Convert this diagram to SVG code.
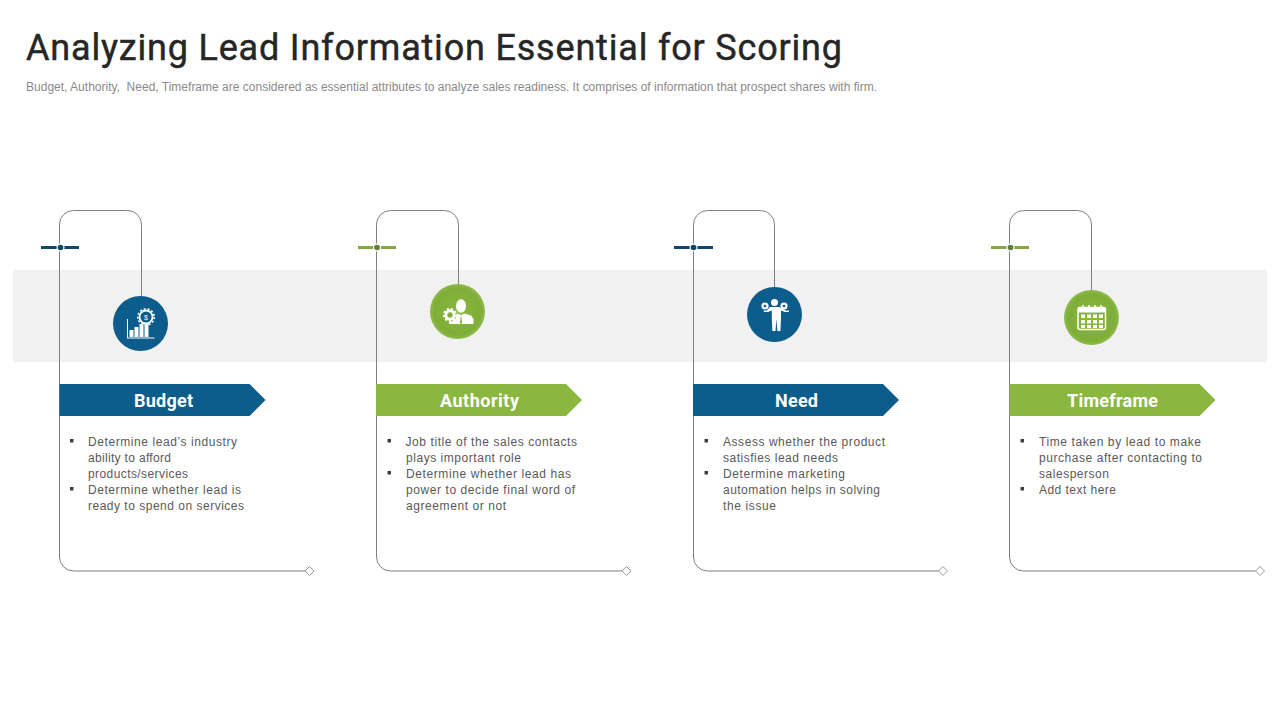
<svg xmlns="http://www.w3.org/2000/svg" width="1280" height="720" viewBox="0 0 1280 720">
<style>
.title{font-family:"Roboto","Liberation Sans",sans-serif;font-size:36px;font-weight:400;fill:#262626;stroke:#262626;stroke-width:.45}
.sub{font-family:"Liberation Sans",Arial,sans-serif;font-size:12px;fill:#8a8a8a}
.body{font-family:"Liberation Sans",Arial,sans-serif;font-size:12px;fill:#595959}
.head{font-family:"Roboto","Liberation Sans",sans-serif;font-size:18px;font-weight:700;fill:#fff;text-anchor:middle}
.conn{fill:none;stroke:#7f7f7f;stroke-width:1}
.dia{fill:#fff;stroke:#7f7f7f;stroke-width:.8}
.blue{fill:#0c5c8c}.green{fill:#8ab73f}
.bul{fill:#404040}
.ico{fill:#fff}
.icl{fill:none;stroke:#fff}
</style>
<defs>
<radialGradient id="gg" cx="50%" cy="50%" r="50%"><stop offset="0" stop-color="#8ab83f"/><stop offset=".85" stop-color="#7fae38"/><stop offset="1" stop-color="#8fbb4c"/></radialGradient>
<path id="arrow" d="M0 0H190L206 16L190 32H0Z"/>
<path id="bullet" d="M0 0h3.500v3.500h-3.500z"/>
</defs>
<rect x="13" y="270" width="1254" height="92" fill="#f1f1f1"/>
<text class="title" x="26" y="60" textLength="816" lengthAdjust="spacing">Analyzing Lead Information Essential for Scoring</text>
<text class="sub" x="26" y="91" textLength="851" lengthAdjust="spacing" xml:space="preserve">Budget, Authority,  Need, Timeframe are considered as essential attributes to analyze sales readiness. It comprises of information that prospect shares with firm.</text>

<g id="connectors">
<path class="conn" d="M141.500 296V224.500a14 14 0 0 0-14-14H73.500a14 14 0 0 0-14 14V557a14 14 0 0 0 14 14H305"/>
<path class="conn" d="M458.500 284V224.500a14 14 0 0 0-14-14H390.500a14 14 0 0 0-14 14V557a14 14 0 0 0 14 14H622"/>
<path class="conn" d="M774.500 287V224.500a14 14 0 0 0-14-14H707.500a14 14 0 0 0-14 14V557a14 14 0 0 0 14 14H938.500"/>
<path class="conn" d="M1091.500 290V224.500a14 14 0 0 0-14-14H1023.500a14 14 0 0 0-14 14V557a14 14 0 0 0 14 14H1255.500"/>
<path class="dia" d="M309.500 566.500l4.500 4.500-4.500 4.500-4.500-4.500z"/>
<path class="dia" d="M626.500 566.500l4.500 4.500-4.500 4.500-4.500-4.500z"/>
<path class="dia" d="M943 566.500l4.500 4.500-4.500 4.500-4.500-4.500z"/>
<path class="dia" d="M1260 566.500l4.500 4.500-4.500 4.500-4.500-4.500z"/>
</g>

<g id="node-budget">
<path d="M41 247.500H79" stroke="#12476b" stroke-width="3"/>
<circle cx="60.500" cy="247.500" r="4" fill="#fff"/><circle cx="60.500" cy="247.500" r="2.800" fill="#12476b"/>
<circle cx="140.500" cy="323.500" r="27.500" class="blue"/>
<g class="ico">
<path d="M127 319h1v19h-1z"/><path d="M127 337.500h27.500v1h-27.500z"/>
<rect x="129.500" y="330" width="4" height="7"/><rect x="134.500" y="327" width="4" height="10"/><rect x="139.500" y="324" width="4" height="13"/><rect x="144.500" y="321" width="4" height="16"/>
</g>
<circle cx="146" cy="317" r="6.500" fill="#0c5c8c" stroke="#fff" stroke-width="1.800"/>
<circle cx="146" cy="317" r="8.200" fill="none" stroke="#fff" stroke-width="1.600" stroke-dasharray="2 2"/>
<text x="146" y="319.500" font-family="Liberation Sans,sans-serif" font-size="7" fill="#fff" text-anchor="middle">$</text>
<use href="#arrow" x="59.500" y="384" class="blue"/>
<text class="head" x="163.500" y="407" textLength="59" lengthAdjust="spacing">Budget</text>
<use href="#bullet" x="70" y="439" class="bul"/><use href="#bullet" x="70" y="487" class="bul"/>
<text class="body" x="88" y="445.500" textLength="149" lengthAdjust="spacing">Determine  lead’s industry</text>
<text class="body" x="88" y="461.500" textLength="83" lengthAdjust="spacing">ability to afford</text>
<text class="body" x="88" y="477.500" textLength="100" lengthAdjust="spacing">products/services</text>
<text class="body" x="88" y="493.500" textLength="153" lengthAdjust="spacing">Determine  whether  lead is</text>
<text class="body" x="88" y="509.500" textLength="156" lengthAdjust="spacing">ready to spend on services</text>
</g>

<g id="node-authority">
<path d="M358 247.500H396" stroke="#86a548" stroke-width="3"/>
<circle cx="377" cy="247.500" r="4" fill="#fff"/><circle cx="377" cy="247.500" r="2.800" fill="#5f7f35"/>
<circle cx="457.500" cy="311.500" r="27.500" fill="url(#gg)"/>
<g class="ico">
<ellipse cx="461" cy="306" rx="5" ry="6.800"/>
<path d="M449 324v-5l2-3.500 6.500-2 3.500 1.500 3.500-1.500 6.500 2 2.500 3.500v5z"/>
</g>
<path d="M461 315l-1.200 8.500h2.400z" fill="#7fae38"/>
<circle cx="450" cy="315" r="6.500" fill="#7fae38"/>
<circle cx="450" cy="315" r="4.200" fill="none" stroke="#fff" stroke-width="3"/>
<circle cx="450" cy="315" r="6.200" fill="none" stroke="#fff" stroke-width="1.800" stroke-dasharray="2.200 2"/>
<use href="#arrow" x="376.500" y="384" class="green" transform="translate(-.5 0)"/>
<text class="head" x="479.500" y="407" textLength="79" lengthAdjust="spacing">Authority</text>
<use href="#bullet" x="387.500" y="439" class="bul"/><use href="#bullet" x="387.500" y="471" class="bul"/>
<text class="body" x="405.500" y="445.500" textLength="171.500" lengthAdjust="spacing">Job title of the sales contacts</text>
<text class="body" x="406" y="461.500" textLength="115" lengthAdjust="spacing">plays important role</text>
<text class="body" x="406" y="477.500" textLength="165" lengthAdjust="spacing">Determine  whether lead has</text>
<text class="body" x="406" y="493.500" textLength="169" lengthAdjust="spacing">power  to decide final word  of</text>
<text class="body" x="406" y="509.500" textLength="100" lengthAdjust="spacing">agreement  or not</text>
</g>

<g id="node-need">
<path d="M674 247.500H713" stroke="#12476b" stroke-width="3"/>
<circle cx="693.500" cy="247.500" r="4" fill="#fff"/><circle cx="693.500" cy="247.500" r="2.800" fill="#12476b"/>
<circle cx="774.500" cy="314.500" r="27.500" class="blue"/>
<g class="ico">
<circle cx="774.500" cy="302.500" r="3.500"/>
<path d="M770 307h9l7 3.500h3v1.600h-4l-4-1.600v8.500l-.6 12h-3.100l-.8-11h-.2l-.8 11h-3.100l-.6-12v-8.500l-4 1.600h-4v-1.600h3z"/>
<circle cx="765" cy="306" r="3.600"/><circle cx="784" cy="306" r="3.600"/>
</g>
<circle cx="765" cy="306" r="1.300" fill="#0c5c8c"/><circle cx="784" cy="306" r="1.300" fill="#0c5c8c"/>
<use href="#arrow" x="693.500" y="384" class="blue" transform="translate(-.5 0)"/>
<text class="head" x="796.500" y="407" textLength="43" lengthAdjust="spacing">Need</text>
<use href="#bullet" x="704.500" y="439" class="bul"/><use href="#bullet" x="704.500" y="471" class="bul"/>
<text class="body" x="723" y="445.500" textLength="162" lengthAdjust="spacing">Assess whether the product</text>
<text class="body" x="723" y="461.500" textLength="115" lengthAdjust="spacing">satisfies lead needs</text>
<text class="body" x="723" y="477.500" textLength="122" lengthAdjust="spacing">Determine  marketing</text>
<text class="body" x="723" y="493.500" textLength="157" lengthAdjust="spacing">automation helps in solving</text>
<text class="body" x="723" y="509.500" textLength="53" lengthAdjust="spacing">the issue</text>
</g>

<g id="node-timeframe">
<path d="M991 247.500H1029" stroke="#86a548" stroke-width="3"/>
<circle cx="1010.500" cy="247.500" r="4" fill="#fff"/><circle cx="1010.500" cy="247.500" r="2.800" fill="#5f7f35"/>
<circle cx="1091.500" cy="317.500" r="27.500" fill="url(#gg)"/>
<rect x="1078" y="307.500" width="27.500" height="22" rx="2" fill="none" stroke="#fff" stroke-width="1.500"/>
<path class="ico" d="M1078 307.500h27.500v5h-27.500z"/>
<path class="icl" stroke-width="1.500" d="M1083 305v4M1089 305v4M1095 305v4M1101 305v4"/>
<g class="ico">
<rect x="1081" y="314.500" width="4" height="3.500"/><rect x="1087" y="314.500" width="4" height="3.500"/><rect x="1093" y="314.500" width="4" height="3.500"/><rect x="1099" y="314.500" width="4" height="3.500"/>
<rect x="1081" y="320" width="4" height="3.500"/><rect x="1087" y="320" width="4" height="3.500"/><rect x="1093" y="320" width="4" height="3.500"/><rect x="1099" y="320" width="4" height="3.500"/>
<rect x="1081" y="325" width="4" height="3"/><rect x="1087" y="325" width="4" height="3"/><rect x="1093" y="325" width="4" height="3"/><rect x="1099" y="325" width="4" height="3"/>
</g>
<use href="#arrow" x="1009.500" y="384" class="green"/>
<text class="head" x="1112.500" y="407" textLength="91" lengthAdjust="spacing">Timeframe</text>
<use href="#bullet" x="1020.500" y="439" class="bul"/><use href="#bullet" x="1020.500" y="487" class="bul"/>
<text class="body" x="1039" y="445.500" textLength="162" lengthAdjust="spacing">Time taken by lead to make</text>
<text class="body" x="1039" y="461.500" textLength="163" lengthAdjust="spacing">purchase after contacting to</text>
<text class="body" x="1039" y="477.500" textLength="70" lengthAdjust="spacing">salesperson</text>
<text class="body" x="1039" y="493.500" textLength="77" lengthAdjust="spacing">Add text here</text>
</g>
</svg>
